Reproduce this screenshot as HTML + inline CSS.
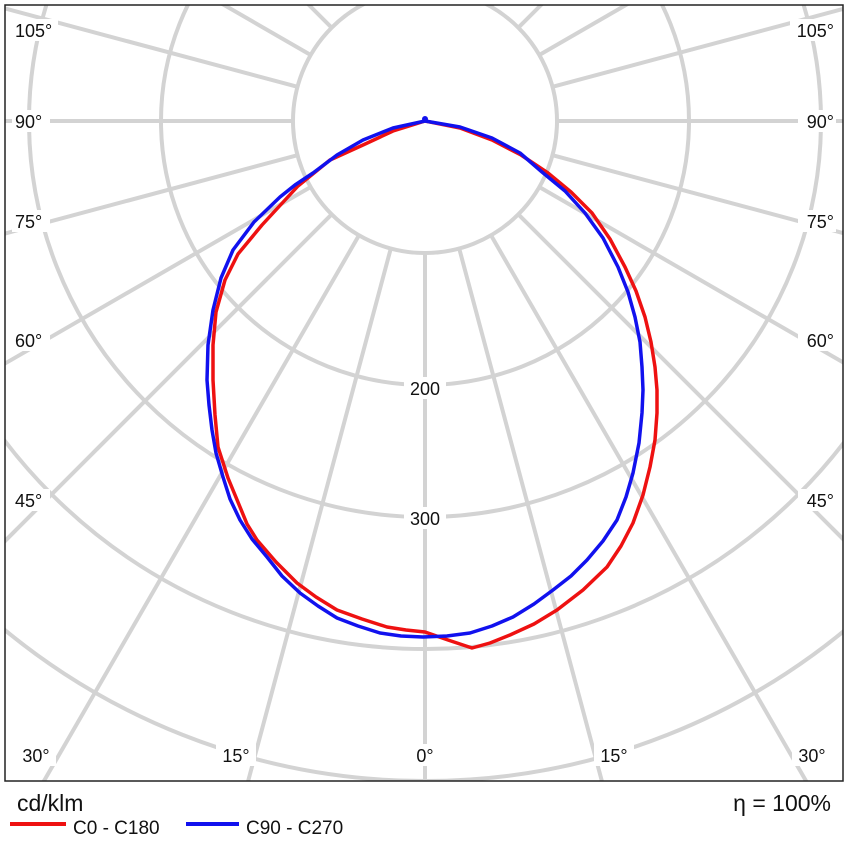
<!DOCTYPE html>
<html><head><meta charset="utf-8"><style>
html,body{margin:0;padding:0;background:#fff;width:848px;height:848px;overflow:hidden;}
svg{display:block;font-family:"Liberation Sans",Arial,sans-serif;}
</style></head><body>
<svg width="848" height="848" viewBox="0 0 848 848" xmlns="http://www.w3.org/2000/svg">
<defs><clipPath id="c"><rect x="5" y="5" width="838" height="776"/></clipPath></defs>
<rect width="848" height="848" fill="#fff"/>
<g clip-path="url(#c)" stroke="#d3d3d3" stroke-width="4" fill="none">
<circle cx="425" cy="121" r="132"/>
<circle cx="425" cy="121" r="264"/>
<circle cx="425" cy="121" r="396"/>
<circle cx="425" cy="121" r="528"/>
<circle cx="425" cy="121" r="660"/>
<circle cx="425" cy="121" r="792"/>
<line x1="425" y1="253" x2="425" y2="1121"/>
<line x1="459.2" y1="248.5" x2="683.8" y2="1086.9"/>
<line x1="491" y1="235.3" x2="925" y2="987"/>
<line x1="518.3" y1="214.3" x2="1132.1" y2="828.1"/>
<line x1="539.3" y1="187" x2="1291" y2="621"/>
<line x1="552.5" y1="155.2" x2="1390.9" y2="379.8"/>
<line x1="557" y1="121" x2="1425" y2="121"/>
<line x1="552.5" y1="86.8" x2="1390.9" y2="-137.8"/>
<line x1="539.3" y1="55" x2="1291" y2="-379"/>
<line x1="518.3" y1="27.7" x2="1132.1" y2="-586.1"/>
<line x1="491" y1="6.7" x2="925" y2="-745"/>
<line x1="459.2" y1="-6.5" x2="683.8" y2="-844.9"/>
<line x1="425" y1="-11" x2="425" y2="-879"/>
<line x1="390.8" y1="248.5" x2="166.2" y2="1086.9"/>
<line x1="359" y1="235.3" x2="-75" y2="987"/>
<line x1="331.7" y1="214.3" x2="-282.1" y2="828.1"/>
<line x1="310.7" y1="187" x2="-441" y2="621"/>
<line x1="297.5" y1="155.2" x2="-540.9" y2="379.8"/>
<line x1="293" y1="121" x2="-575" y2="121"/>
<line x1="297.5" y1="86.8" x2="-540.9" y2="-137.8"/>
<line x1="310.7" y1="55" x2="-441" y2="-379"/>
<line x1="331.7" y1="27.7" x2="-282.1" y2="-586.1"/>
<line x1="359" y1="6.7" x2="-75" y2="-745"/>
<line x1="390.8" y1="-6.5" x2="166.2" y2="-844.9"/>
</g>
<g font-size="18" fill="#111">
<g fill="#fff">
<rect x="12" y="19" width="46" height="22"/><rect x="790" y="19" width="46" height="22"/>
<rect x="12" y="110" width="38" height="22"/><rect x="798" y="110" width="38" height="22"/>
<rect x="12" y="210" width="38" height="22"/><rect x="798" y="210" width="38" height="22"/>
<rect x="12" y="329" width="38" height="22"/><rect x="798" y="329" width="38" height="22"/>
<rect x="12" y="489" width="38" height="22"/><rect x="798" y="489" width="38" height="22"/>
<rect x="16" y="744" width="40" height="22"/><rect x="792" y="744" width="40" height="22"/>
<rect x="216" y="744" width="40" height="22"/><rect x="594" y="744" width="40" height="22"/>
<rect x="411" y="744" width="28" height="22"/>
<rect x="404" y="377" width="42" height="22"/><rect x="404" y="507" width="42" height="22"/>
</g>
<text x="15" y="37">105°</text><text x="834" y="37" text-anchor="end">105°</text>
<text x="15" y="128">90°</text><text x="834" y="128" text-anchor="end">90°</text>
<text x="15" y="228">75°</text><text x="834" y="228" text-anchor="end">75°</text>
<text x="15" y="347">60°</text><text x="834" y="347" text-anchor="end">60°</text>
<text x="15" y="507">45°</text><text x="834" y="507" text-anchor="end">45°</text>
<text x="36" y="762" text-anchor="middle">30°</text><text x="812" y="762" text-anchor="middle">30°</text>
<text x="236" y="762" text-anchor="middle">15°</text><text x="614" y="762" text-anchor="middle">15°</text>
<text x="425" y="762" text-anchor="middle">0°</text>
<text x="425" y="395" text-anchor="middle">200</text>
<text x="425" y="525" text-anchor="middle">300</text>
</g>
<g fill="none" stroke-width="3.5" stroke-linejoin="round">
<polyline stroke="#ee1111" points="425,121 460,128 492,140 521,155 548,173 571,192 592,213 610,239 625,267 636,291 645,317 651,342 655,367 657,390 657,413 655,440 650,467 643,495 633,523 621,546 607,567 583,590 557,610 534,624 510,635 490,643 472,648 448,640 425,632 406,630 387,627 362,619 337,610 316,597 297,583 276,562 257,540 247,524 240,507 228,478 218,447 215,415 213,380 213,345 216,312 225,280 238,254 262,225 298,186 330,160 363,145 393,131 425,121"/>
<polyline stroke="#1111ee" points="425,121 460,127 492,138 520,153 542,172 565,191 585,213 603,238 618,267 628,292 635,317 640,342 642,367 643,390 642,413 639,443 633,473 626,497 617,520 603,541 587,560 571,576 553,590 534,604 513,617 492,626 470,633 447,636 423,637 401,636 380,633 358,626 337,618 318,606 300,593 282,576 267,557 252,539 240,520 230,499 223,477 216,453 212,430 209,405 207,380 208,345 213,310 221,278 233,250 254,222 280,197 295,185 313,173 337,155 363,140 393,128 425,121"/>
</g>
<circle cx="425" cy="119" r="3" fill="#1111ee"/>
<rect x="5" y="5" width="838" height="776" fill="none" stroke="#222" stroke-width="1.5"/>
<text x="17" y="811" font-size="23" fill="#111">cd/klm</text>
<text x="831" y="811" font-size="23" fill="#111" text-anchor="end">η = 100%</text>
<line x1="10" y1="824" x2="66" y2="824" stroke="#ee1111" stroke-width="4"/>
<text x="73" y="834" font-size="19" fill="#111">C0 - C180</text>
<line x1="186" y1="824" x2="239" y2="824" stroke="#1111ee" stroke-width="4"/>
<text x="246" y="834" font-size="19" fill="#111">C90 - C270</text>
</svg>
</body></html>
